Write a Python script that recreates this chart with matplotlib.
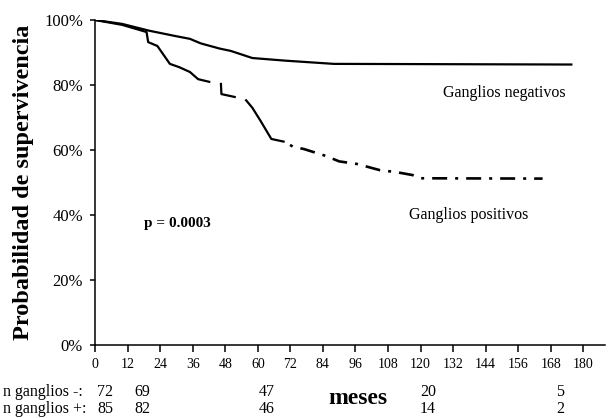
import matplotlib
matplotlib.use("Agg")
import matplotlib.pyplot as plt
import matplotlib.transforms as mtransforms
import numpy as np

plt.rcParams['font.family'] = ['Liberation Serif', 'DejaVu Serif']
plt.rcParams['lines.scale_dashes'] = False

# ---- data ----
neg_months = [0, 10, 20, 30, 35, 39, 46, 50, 58, 70, 88, 176]
neg_surv = [100, 98.8, 96.7, 95.0, 94.2, 92.8, 91.2, 90.5, 88.3, 87.5, 86.5, 86.3]

pos_months = [0, 10, 19, 19.6, 23, 27.6, 31, 35, 38, 42.5,
              46.4, 46.6, 51.6, 55.3, 58, 61, 65, 70,
              73, 77, 85, 90, 96.6, 105, 111, 117, 120, 165]
pos_surv = [100, 98.5, 96.3, 93.2, 92.0, 86.5, 85.5, 84.0, 81.8, 80.9,
            80.8, 77.2, 76.3, 75.7, 73.0, 69.0, 63.4, 62.5,
            61.0, 60.3, 58.2, 56.5, 55.7, 53.8, 53.2, 52.3, 51.3, 51.2]

x_ticks = list(range(0, 181, 12))
y_ticks = [0, 20, 40, 60, 80, 100]
y_ticklabels = ['0%', '20%', '40%', '60%', '80%', '100%']

risk_label_neg = 'n ganglios -:'
risk_label_pos = 'n ganglios +:'
risk_neg = [72, 69, 47, 20, 5]
risk_pos = [85, 82, 46, 14, 2]
risk_x = [3.7, 17.3, 63.4, 122.7, 171.4]

# ---- figure ----
fig = plt.figure(figsize=(6.08, 4.18), dpi=100)
ax = fig.add_axes([95/608, 73/418, 510/608, 325/418])

pm = np.array(pos_months)
ps = np.array(pos_surv)

ax.plot(neg_months, neg_surv, color='black', lw=1.6, solid_capstyle='butt')

px2pt = 0.72
seg1 = pm <= 42.5
ax.plot(pm[seg1], ps[seg1], color='black', lw=1.6, solid_capstyle='butt')
seg2 = (pm >= 42.5) & (pm <= 70)
ax.plot(pm[seg2], ps[seg2], color='black', lw=1.6, dash_capstyle='butt',
        linestyle=(97 * px2pt, [26 * px2pt, 10 * px2pt, 61 * px2pt, 11 * px2pt]))
seg3 = pm >= 70
ax.plot(pm[seg3], ps[seg3], color='black', lw=1.9, dash_capstyle='butt',
        linestyle=(17 * px2pt, [15 * px2pt, 8 * px2pt, 3 * px2pt, 8 * px2pt]))

ax.set_xlim(0, 188)
ax.set_ylim(0, 100)
ax.set_xticks(x_ticks)
ax.set_yticks(y_ticks)
ax.set_yticklabels(y_ticklabels)
ax.tick_params(axis='x', direction='out', length=5, width=1.1, labelsize=10, pad=4)
ax.tick_params(axis='y', direction='out', length=3.6, width=1.1, labelsize=12, pad=5)
for s in ['top', 'right']:
    ax.spines[s].set_visible(False)
for s in ['left', 'bottom']:
    ax.spines[s].set_linewidth(1.1)

ax.set_ylabel('Probabilidad de supervivencia', fontsize=17.5, fontweight='bold',
              labelpad=7)

ax.text((504 - 95) / 2.713, 100 * (345 - 93) / 325, 'Ganglios negativos',
        ha='center', va='center', fontsize=11.5)
ax.text((469 - 95) / 2.713, 100 * (345 - 215) / 325, 'Ganglios positivos',
        ha='center', va='center', fontsize=11.5)
ax.text((177 - 95) / 2.713, 100 * (345 - 223) / 325, 'p = 0.0003',
        ha='center', va='center', fontsize=11, fontweight='bold')

trans = mtransforms.blended_transform_factory(ax.transData, fig.transFigure)
y_row1 = 1 - 392 / 418
y_row2 = 1 - 409 / 418
fig.text(3 / 608, y_row1, risk_label_neg, ha='left', va='center', fontsize=11.5)
fig.text(3 / 608, y_row2, risk_label_pos, ha='left', va='center', fontsize=11.5)
for xv, n1, n2 in zip(risk_x, risk_neg, risk_pos):
    ax.text(xv, y_row1, str(n1), transform=trans, ha='center', va='center', fontsize=11.5)
    ax.text(xv, y_row2, str(n2), transform=trans, ha='center', va='center', fontsize=11.5)

fig.text(358 / 608, 1 - 398 / 418, 'meses', ha='center', va='center',
         fontsize=17, fontweight='bold')

fig.savefig('out.png', dpi=100)
